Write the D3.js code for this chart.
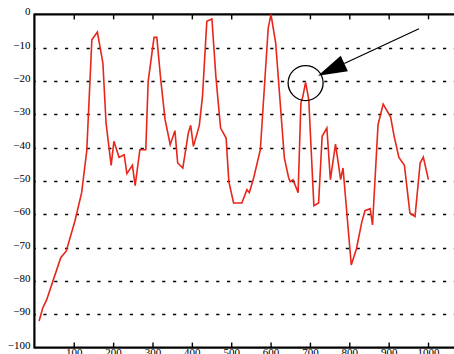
<!DOCTYPE html>
<html>
<head>
<meta charset="utf-8">
<script src="https://cdn.jsdelivr.net/npm/d3@7"></script>
<style>
  body { margin: 0; background: #fff; }
  svg { display: block; }
</style>
</head>
<body>
<svg id="chart" width="454" height="354"></svg>
<script>
// Response trace (frequency, level in dB)
const freq = [12, 21, 31, 50, 67, 81, 103, 120, 133, 146, 160, 174, 182, 195, 202, 215, 228, 235, 249, 256,
  268, 283, 289, 304, 311, 321, 332, 339, 345, 357, 364, 377, 391, 397, 404, 419, 427, 438, 451, 461,
  473, 487, 494, 506, 527, 540, 546, 557, 574, 594, 601, 613, 635, 646, 650, 657, 670, 677, 682, 689,
  697, 710, 722, 731, 743, 752, 765, 778, 784, 805, 818, 832, 840, 853, 859, 873, 886, 905, 914, 926,
  940, 954, 967, 980, 988, 1001];
const level = [-92, -88.2, -85.7, -79, -73, -71, -62, -53.5, -41, -7.6, -5.3, -14.6, -32.6, -45.3, -38.1, -42.9, -42.1, -47.8, -45.3, -51.4,
  -40.6, -40.6, -20.1, -6.9, -6.9, -19.6, -31.6, -35.6, -39.1, -34.9, -44.6, -46.1, -35.6, -33.3, -39.6, -33.3, -24.6, -2.1, -1.4, -18.6,
  -34.1, -37.1, -50.2, -56.6, -56.6, -52.6, -53.5, -49.1, -40.6, -4.1, 0, -8.6, -43.1, -49.1, -50.2, -49.6, -53.5, -26.6, -24.6, -20.4,
  -25.6, -57.4, -56.6, -36.6, -34.1, -49.6, -38.9, -49.6, -46.1, -75.2, -70.4, -62.2, -58.9, -58.3, -63.2, -33.1, -26.9, -30.8, -36.6, -42.9,
  -45.3, -59.6, -60.7, -44.6, -42.8, -49.6];

const xTicks = [100, 200, 300, 400, 500, 600, 700, 800, 900, 1000];
const yTicks = [0, -10, -20, -30, -40, -50, -60, -70, -80, -90, -100];
const gridLevels = [-10, -20, -30, -40, -50, -60, -70, -80, -90];

// Highlighted point and the pointer aimed at it (data units)
const markPoint = { x: 689, y: -20.6 };
const pointerFrom = { x: 977, y: -4.3 };
const pointerTo = { x: 720.5, y: -18.4 };

const W = 454, H = 354;
const FONT = "'Liberation Serif', 'Times New Roman', serif";

const x = d3.scaleLinear().domain([0, 1066]).range([34.4, W]);
const y = d3.scaleLinear().domain([-100, 0]).range([347.6, 14.4]);

const svg = d3.select("#chart");

// dashed horizontal grid
svg.append("g")
  .selectAll("line")
  .data(gridLevels)
  .join("line")
  .attr("x1", x(0)).attr("x2", W)
  .attr("y1", d => Math.round(y(d)) + 0.5)
  .attr("y2", d => Math.round(y(d)) + 0.5)
  .attr("stroke", "#000")
  .attr("stroke-width", 1.4)
  .attr("stroke-dasharray", "3.2,7.6")
  .attr("stroke-dashoffset", 1.8);

// top frame line with downward ticks
const topAxis = svg.append("g")
  .attr("transform", `translate(0,${y(0)})`)
  .call(d3.axisBottom(x).tickValues(xTicks).tickSizeInner(5).tickSizeOuter(0).tickFormat(""));

// bottom axis with upward ticks and labels
const bottomAxis = svg.append("g")
  .attr("transform", `translate(0,${y(-100)})`)
  .call(d3.axisBottom(x).tickValues(xTicks).tickSizeInner(-5).tickSizeOuter(0).tickPadding(1)
    .tickFormat(d3.format("d")));

// left axis with labels only
const leftAxis = svg.append("g")
  .attr("transform", `translate(${x(0)},0)`)
  .call(d3.axisLeft(y).tickValues(yTicks).tickSize(0).tickPadding(4).tickFormat(d3.format("d")));

[topAxis, bottomAxis, leftAxis].forEach(g => {
  g.select(".domain").attr("stroke", "#000").attr("stroke-width", 2.2);
  g.selectAll(".tick line").attr("stroke", "#000").attr("stroke-width", 1.4);
  g.selectAll("text").attr("fill", "#000").style("font-family", FONT).style("font-size", "11px");
});
leftAxis.selectAll("text").attr("dy", "0.05em");
// keep the left frame line spanning the full plot height
leftAxis.select(".domain").attr("d", `M0,${y(0) - 1}V${y(-100) + 1}`);
topAxis.select(".domain").attr("d", `M${x(0)},0H${W}`);
bottomAxis.select(".domain").attr("d", `M${x(0)},0H${W}`);

// response trace
svg.append("path")
  .datum(freq.map((f, i) => [f, level[i]]))
  .attr("fill", "none")
  .attr("stroke", "#e8261a")
  .attr("stroke-width", 1.6)
  .attr("stroke-linejoin", "miter")
  .attr("d", d3.line().x(d => x(d[0])).y(d => y(d[1])));

// circle around the marked point
svg.append("circle")
  .attr("cx", x(markPoint.x))
  .attr("cy", y(markPoint.y))
  .attr("r", 17.5)
  .attr("fill", "none")
  .attr("stroke", "#000")
  .attr("stroke-width", 1.3);

// pointer arrow
const ax0 = x(pointerFrom.x), ay0 = y(pointerFrom.y);
const ax1 = x(pointerTo.x), ay1 = y(pointerTo.y);
const len = Math.hypot(ax1 - ax0, ay1 - ay0);
const ux = (ax1 - ax0) / len, uy = (ay1 - ay0) / len;
const headLen = 29, headHalf = 8.5;
const bx = ax1 - ux * headLen, by = ay1 - uy * headLen;

svg.append("line")
  .attr("x1", ax0).attr("y1", ay0)
  .attr("x2", bx).attr("y2", by)
  .attr("stroke", "#000")
  .attr("stroke-width", 1.3);

svg.append("path")
  .attr("d", `M${ax1},${ay1}L${bx - uy * headHalf},${by + ux * headHalf}L${bx + uy * headHalf},${by - ux * headHalf}Z`)
  .attr("fill", "#000");
</script>
</body>
</html>
